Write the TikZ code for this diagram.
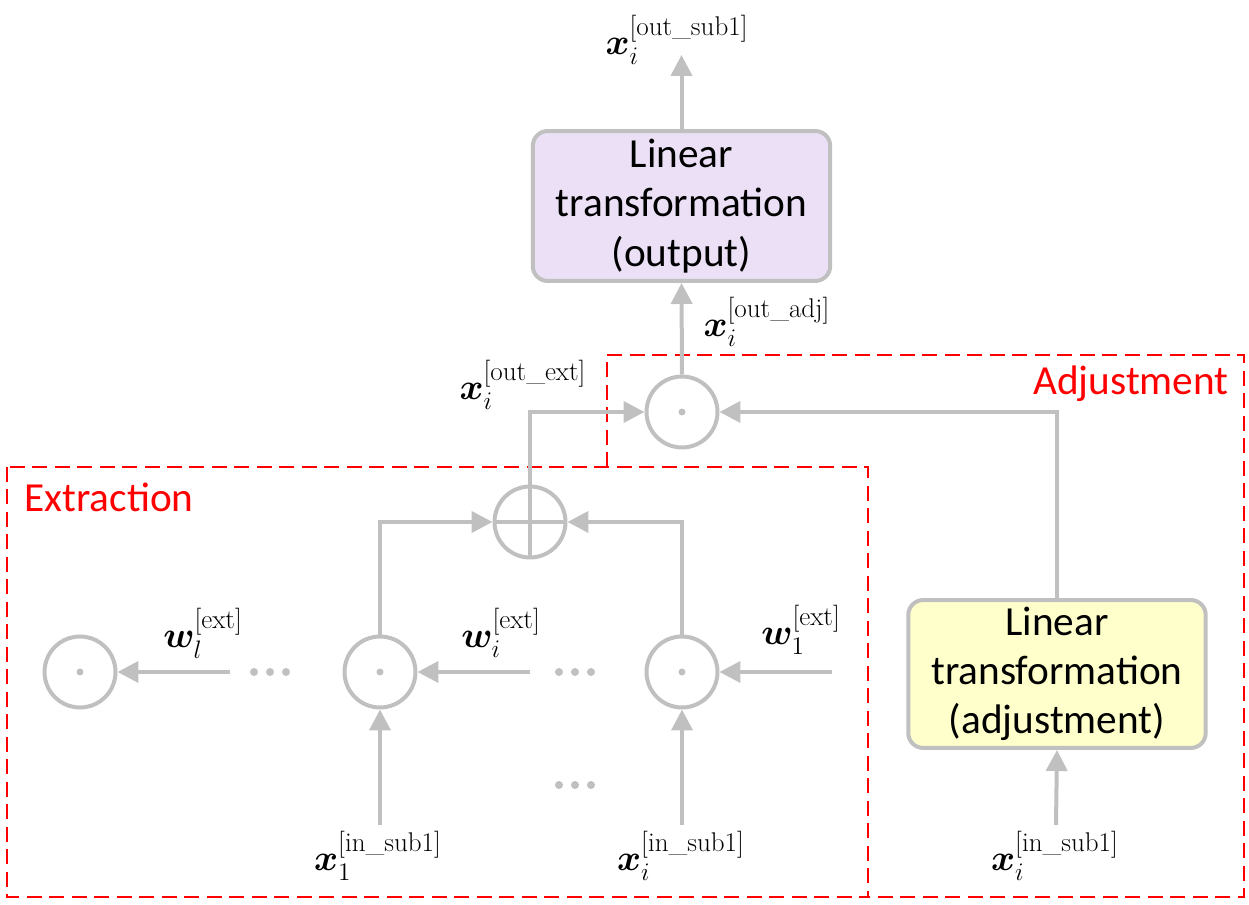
\documentclass[tikz,border=0pt]{standalone}
\usepackage{fontspec}
\usepackage{amsmath,bm}
\newfontfamily\calibri{Carlito}
\usetikzlibrary{arrows.meta}
\definecolor{lgray}{HTML}{C0C0C0}
\definecolor{purp}{HTML}{EBE0F5}
\definecolor{yel}{HTML}{FFFFCC}
\tikzset{
  conn/.style={draw=lgray, line width=0.08cm, -{Triangle[length=0.42cm,width=0.42cm]}},
  wire/.style={draw=lgray, line width=0.08cm},
  opnode/.style={circle, draw=lgray, line width=0.08cm, minimum size=1.42cm, inner sep=0pt},
  lbox/.style={draw=lgray, line width=0.08cm, rounded corners=0.3cm, minimum width=5.95cm, align=center, font=\calibri\fontsize{23.5}{28}\selectfont},
  mlabel/.style={font=\fontsize{22}{26}\selectfont, inner sep=0pt},
  region/.style={draw=red, line width=0.04cm, dash pattern=on 0.3cm off 0.15cm},
  rtext/.style={text=red, font=\calibri\fontsize{23.5}{28}\selectfont, inner sep=0pt},
  dotsym/.style={fill=lgray, draw=none, circle, minimum size=0.16cm, inner sep=0pt}
}
\begin{document}
\begin{tikzpicture}[x=0.02cm, y=-0.02cm]
\useasboundingbox (0,0) rectangle (1249,905);
% regions
\draw[region] (7,467) rectangle (868,897);
\draw[region] (607,467) -- (607,355) -- (1244,355) -- (1244,897) -- (868,897);
\node[rtext] (extl) at (109,497) {Extraction};
\node[rtext] (adjl) at (1131,384) {Adjustment};
% boxes
\node[lbox, fill=purp, minimum height=3.0cm] (outbox) at (681.5,206) {Linear\\transformation\\(output)};
\node[lbox, fill=yel, minimum height=2.96cm] (adjbox) at (1057,674) {Linear\\transformation\\(adjustment)};
% operator nodes
\node[opnode] (mul) at (682,412) {};
\node[dotsym, minimum size=0.14cm] at (mul) {};
\node[opnode] (add) at (530,522) {};
\draw[wire] (add.north) -- (add.south) (add.west) -- (add.east);
\node[opnode] (m1) at (80,672) {};
\node[opnode] (m2) at (380,672) {};
\node[opnode] (m3) at (682,672) {};
\foreach \n in {m1,m2,m3} \node[dotsym, minimum size=0.14cm] at (\n) {};
% ellipses
\foreach \cx/\cy in {270/672, 575/672, 575/785} {
  \foreach \dx in {-16,0,16} \node[dotsym] at (\cx+\dx,\cy) {};
}
% coordinates
\coordinate (top) at (681.5,55);
\coordinate (wl) at (230,672);
\coordinate (wi) at (530,672);
\coordinate (w1) at (832,672);
\coordinate (in1) at (380,825);
\coordinate (ini) at (682,825);
\coordinate (inadj) at (1056,825);
% connectors
\draw[conn] (outbox.north) -- (top);
\draw[conn] (mul.north) -- (outbox.south);
\draw[conn] (add.north) |- (mul.west);
\draw[conn] (adjbox.north) |- (mul.east);
\draw[conn] (m2.north) |- (add.west);
\draw[conn] (m3.north) |- (add.east);
\draw[conn] (wl) -- (m1.east);
\draw[conn] (wi) -- (m2.east);
\draw[conn] (w1) -- (m3.east);
\draw[conn] (in1) -- (m2.south);
\draw[conn] (ini) -- (m3.south);
\draw[conn] (inadj) -- (adjbox.south);
% labels
\node[mlabel] (l1) at (677,40) {$\bm{x}_i^{\text{[out\_sub1]}}$};
\node[mlabel] (l2) at (767,322) {$\bm{x}_i^{\text{[out\_adj]}}$};
\node[mlabel] (l3) at (523,385) {$\bm{x}_i^{\text{[out\_ext]}}$};
\node[mlabel] (l4) at (203,633) {$\bm{w}_l^{\text{[ext]}}$};
\node[mlabel] (l5) at (501,633) {$\bm{w}_i^{\text{[ext]}}$};
\node[mlabel] (l6) at (801,630) {$\bm{w}_1^{\text{[ext]}}$};
\node[mlabel] (l7) at (378,856) {$\bm{x}_1^{\text{[in\_sub1]}}$};
\node[mlabel] (l8) at (681,856) {$\bm{x}_i^{\text{[in\_sub1]}}$};
\node[mlabel] (l9) at (1055,856) {$\bm{x}_i^{\text{[in\_sub1]}}$};
\end{tikzpicture}
\end{document}
